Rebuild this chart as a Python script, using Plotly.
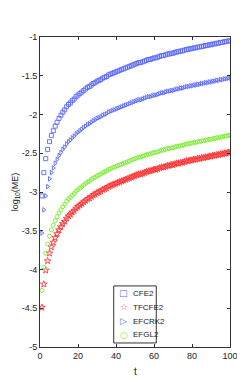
import plotly.graph_objects as go

t = list(range(1, 101))

cfe2 = [
    -3.05, -2.75, -2.57, -2.45, -2.35, -2.27, -2.21, -2.15, -2.10, -2.05,
    -2.01, -1.97, -1.94, -1.90, -1.87, -1.85, -1.82, -1.80, -1.77, -1.75,
    -1.73, -1.71, -1.69, -1.67, -1.65, -1.64, -1.62, -1.60, -1.59, -1.57,
    -1.56, -1.55, -1.53, -1.52, -1.51, -1.49, -1.48, -1.47, -1.46, -1.45,
    -1.44, -1.43, -1.42, -1.41, -1.40, -1.39, -1.38, -1.37, -1.36, -1.35,
    -1.34, -1.33, -1.33, -1.32, -1.31, -1.30, -1.29, -1.29, -1.28, -1.27,
    -1.27, -1.26, -1.25, -1.24, -1.24, -1.23, -1.22, -1.22, -1.21, -1.21,
    -1.20, -1.19, -1.19, -1.18, -1.18, -1.17, -1.16, -1.16, -1.15, -1.15,
    -1.14, -1.14, -1.13, -1.13, -1.12, -1.12, -1.11, -1.11, -1.10, -1.10,
    -1.09, -1.09, -1.08, -1.08, -1.07, -1.07, -1.06, -1.06, -1.05, -1.05,
]

tfcfe2 = [
    -4.49, -4.19, -4.01, -3.89, -3.79, -3.71, -3.65, -3.59, -3.54, -3.49,
    -3.45, -3.41, -3.38, -3.34, -3.31, -3.29, -3.26, -3.24, -3.21, -3.19,
    -3.17, -3.15, -3.13, -3.11, -3.09, -3.08, -3.06, -3.04, -3.03, -3.01,
    -3.00, -2.99, -2.97, -2.96, -2.95, -2.93, -2.92, -2.91, -2.90, -2.89,
    -2.88, -2.87, -2.86, -2.85, -2.84, -2.83, -2.82, -2.81, -2.80, -2.79,
    -2.78, -2.77, -2.77, -2.76, -2.75, -2.74, -2.73, -2.73, -2.72, -2.71,
    -2.71, -2.70, -2.69, -2.68, -2.68, -2.67, -2.66, -2.66, -2.65, -2.65,
    -2.64, -2.63, -2.63, -2.62, -2.62, -2.61, -2.60, -2.60, -2.59, -2.59,
    -2.58, -2.58, -2.57, -2.57, -2.56, -2.56, -2.55, -2.55, -2.54, -2.54,
    -2.53, -2.53, -2.52, -2.52, -2.51, -2.51, -2.50, -2.50, -2.49, -2.49,
]

efcrk2 = [
    -3.53, -3.23, -3.05, -2.93, -2.83, -2.75, -2.69, -2.63, -2.58, -2.53,
    -2.49, -2.45, -2.42, -2.38, -2.35, -2.33, -2.30, -2.28, -2.25, -2.23,
    -2.21, -2.19, -2.17, -2.15, -2.13, -2.12, -2.10, -2.08, -2.07, -2.05,
    -2.04, -2.03, -2.01, -2.00, -1.99, -1.97, -1.96, -1.95, -1.94, -1.93,
    -1.92, -1.91, -1.90, -1.89, -1.88, -1.87, -1.86, -1.85, -1.84, -1.83,
    -1.82, -1.81, -1.81, -1.80, -1.79, -1.78, -1.77, -1.77, -1.76, -1.75,
    -1.75, -1.74, -1.73, -1.72, -1.72, -1.71, -1.70, -1.70, -1.69, -1.69,
    -1.68, -1.67, -1.67, -1.66, -1.66, -1.65, -1.64, -1.64, -1.63, -1.63,
    -1.62, -1.62, -1.61, -1.61, -1.60, -1.60, -1.59, -1.59, -1.58, -1.58,
    -1.57, -1.57, -1.56, -1.56, -1.55, -1.55, -1.54, -1.54, -1.53, -1.53,
]

efgl2 = [
    -4.27, -3.97, -3.79, -3.67, -3.57, -3.49, -3.43, -3.37, -3.32, -3.27,
    -3.23, -3.19, -3.16, -3.12, -3.09, -3.07, -3.04, -3.02, -2.99, -2.97,
    -2.95, -2.93, -2.91, -2.89, -2.87, -2.86, -2.84, -2.82, -2.81, -2.79,
    -2.78, -2.77, -2.75, -2.74, -2.73, -2.71, -2.70, -2.69, -2.68, -2.67,
    -2.66, -2.65, -2.64, -2.63, -2.62, -2.61, -2.60, -2.59, -2.58, -2.57,
    -2.56, -2.55, -2.55, -2.54, -2.53, -2.52, -2.51, -2.51, -2.50, -2.49,
    -2.49, -2.48, -2.47, -2.46, -2.46, -2.45, -2.44, -2.44, -2.43, -2.43,
    -2.42, -2.41, -2.41, -2.40, -2.40, -2.39, -2.38, -2.38, -2.37, -2.37,
    -2.36, -2.36, -2.35, -2.35, -2.34, -2.34, -2.33, -2.33, -2.32, -2.32,
    -2.31, -2.31, -2.30, -2.30, -2.29, -2.29, -2.28, -2.28, -2.27, -2.27,
]

x_ticks = [0, 20, 40, 60, 80, 100]
y_ticks = [-1, -1.5, -2, -2.5, -3, -3.5, -4, -4.5, -5]
y_tick_text = ["-1", "-1.5", "-2", "-2.5", "-3", "-3.5", "-4", "-4.5", "-5"]

BLUE = "rgb(90,105,255)"
RED = "rgb(255,55,55)"
GREEN = "rgb(125,235,55)"

# name, values, plot symbol, colour, size, legend glyph
series = [
    ("CFE2", cfe2, "square-open", BLUE, 4, "□"),
    ("TFCFE2", tfcfe2, "star-open", RED, 5, "☆"),
    ("EFCRK2", efcrk2, "triangle-right-open", BLUE, 4, "▷"),
    ("EFGL2", efgl2, "circle-open", GREEN, 4, "○"),
]

fig = go.Figure()
for name, vals, sym, col, sz, glyph in series:
    fig.add_trace(go.Scatter(
        x=t, y=vals, name=name, mode="markers", showlegend=False,
        marker=dict(symbol=sym, size=sz, color=col, line=dict(width=0.9, color=col)),
    ))

axis_common = dict(
    showgrid=False, zeroline=False, showline=True, linecolor="#333333", linewidth=1,
    mirror="ticks", ticks="inside", ticklen=3, tickcolor="#333333",
    tickfont=dict(family="Liberation Sans, Arial, sans-serif", size=9, color="#222222"),
)

fig.update_xaxes(range=[0, 100], tickvals=x_ticks, **axis_common)
fig.update_yaxes(range=[-5, -1], tickvals=y_ticks, ticktext=y_tick_text, **axis_common)

# manual compact legend (box + glyph + label), in paper coordinates
leg_x0, leg_x1, leg_y0, leg_y1 = 0.388, 0.612, 0.013, 0.197
leg_rows = [0.174, 0.128, 0.083, 0.040]
annotations = []
for (name, vals, sym, col, sz, glyph), yy in zip(series, leg_rows):
    annotations.append(dict(text=glyph, xref="paper", yref="paper", x=0.44, y=yy,
                            showarrow=False, xanchor="center", yanchor="middle",
                            font=dict(size=9, color=col, family="DejaVu Sans")))
    annotations.append(dict(text=name, xref="paper", yref="paper", x=0.478, y=yy,
                            showarrow=False, xanchor="left", yanchor="middle",
                            font=dict(size=8, color="#222222")))

annotations += [
    dict(text="t", xref="paper", yref="paper", x=0.5, y=-0.078,
         showarrow=False, xanchor="center", yanchor="middle", font=dict(size=10)),
    dict(text="log<sub>10</sub>(ME)", xref="paper", yref="paper", x=-0.13, y=0.5,
         showarrow=False, textangle=-90, xanchor="center", yanchor="middle",
         font=dict(size=9)),
]

fig.update_layout(
    width=245, height=382,
    margin=dict(l=32, r=23, t=29, b=43),
    paper_bgcolor="white", plot_bgcolor="white",
    font=dict(family="Liberation Sans, Arial, sans-serif", size=9, color="#222222"),
    showlegend=False,
    shapes=[dict(type="rect", xref="paper", yref="paper",
                 x0=leg_x0, x1=leg_x1, y0=leg_y0, y1=leg_y1,
                 line=dict(color="#333333", width=1), fillcolor="white", layer="above")],
    annotations=annotations,
)

fig.write_html("out.html")
